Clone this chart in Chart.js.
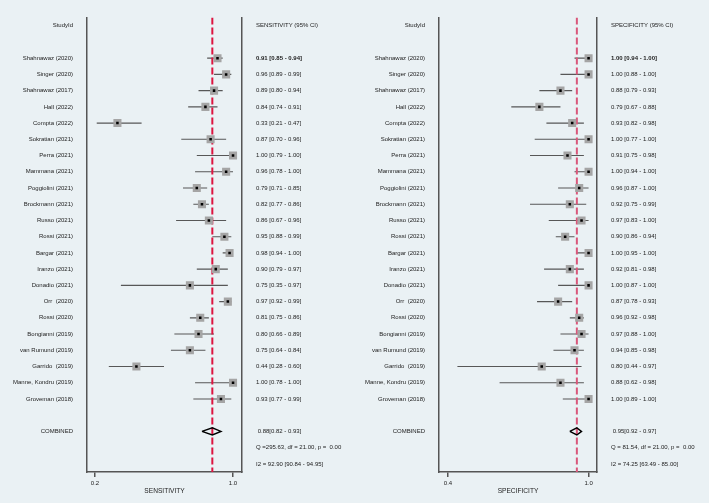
<!DOCTYPE html>
<html>
<head>
<meta charset="utf-8">
<script src="https://cdn.jsdelivr.net/npm/chart.js@4.4.0/dist/chart.umd.min.js"></script>
<style>
  html, body { margin: 0; padding: 0; background: #eaf1f4; }
  #wrap { position: relative; width: 709px; height: 503px; }
  canvas { position: absolute; top: 0; }
</style>
</head>
<body>
<div id="wrap">
  <canvas id="sens" width="354" height="503" style="left:0px"></canvas>
  <canvas id="spec" width="355" height="503" style="left:354px"></canvas>
</div>
<script>
const STUDIES = [
  "Shahnawaz (2020)", "Singer (2020)", "Shahnawaz (2017)", "Hall (2022)",
  "Compta (2022)", "Sokratian (2021)", "Perra (2021)", "Mammana (2021)",
  "Poggiolini (2021)", "Brockmann (2021)", "Russo (2021)", "Rossi (2021)",
  "Bargar (2021)", "Iranzo (2021)", "Donadio (2021)", "Orr  (2020)",
  "Rossi (2020)", "Bongianni (2019)", "van Rumund (2019)", "Garrido  (2019)",
  "Manne, Kondru (2019)", "Groveman (2018)",
];

const SENS_EST = [0.91, 0.96, 0.89, 0.84, 0.33, 0.87, 1.00, 0.96, 0.79, 0.82, 0.86,
  0.95, 0.98, 0.90, 0.75, 0.97, 0.81, 0.80, 0.75, 0.44, 1.00, 0.93];
const SENS_LO = [0.85, 0.89, 0.80, 0.74, 0.21, 0.70, 0.79, 0.78, 0.71, 0.77, 0.67,
  0.88, 0.94, 0.79, 0.35, 0.92, 0.75, 0.66, 0.64, 0.28, 0.78, 0.77];
const SENS_HI = [0.94, 0.99, 0.94, 0.91, 0.47, 0.96, 1.00, 1.00, 0.85, 0.86, 0.96,
  0.99, 1.00, 0.97, 0.97, 0.99, 0.86, 0.89, 0.84, 0.60, 1.00, 0.99];
const SENS_POOLED = [0.88, 0.82, 0.93];
const SENS_STATS = ["Q =295.63, df = 21.00, p =  0.00", "I2 = 92.90 [90.84 - 94.95]"];
const SENS_TICKS = [0.2, 1.0];

const SPEC_EST = [1.00, 1.00, 0.88, 0.79, 0.93, 1.00, 0.91, 1.00, 0.96, 0.92, 0.97,
  0.90, 1.00, 0.92, 1.00, 0.87, 0.96, 0.97, 0.94, 0.80, 0.88, 1.00];
const SPEC_LO = [0.94, 0.88, 0.79, 0.67, 0.82, 0.77, 0.75, 0.94, 0.87, 0.75, 0.83,
  0.86, 0.95, 0.81, 0.87, 0.78, 0.92, 0.88, 0.85, 0.44, 0.62, 0.89];
const SPEC_HI = [1.00, 1.00, 0.93, 0.88, 0.98, 1.00, 0.98, 1.00, 1.00, 0.99, 1.00,
  0.94, 1.00, 0.98, 1.00, 0.93, 0.98, 1.00, 0.98, 0.97, 0.98, 1.00];
const SPEC_POOLED = [0.95, 0.92, 0.97];
const SPEC_STATS = ["Q = 81.54, df = 21.00, p =  0.00", "I2 = 74.25 [63.49 - 85.00]"];
const SPEC_TICKS = [0.4, 1.0];

const FONT = "'Liberation Sans', Arial, Helvetica, sans-serif";

function ForestPlot(canvasId, cfg) {
  this.canvasId = canvasId;
  this.cfg = cfg;
  this.chart = null;
}

// rows: 0 header, 2..23 studies, 25 combined, 26-27 stats
ForestPlot.prototype.rowLabels = function () {
  const c = this.cfg;
  const fmt = (v) => v.toFixed(2);
  const left = {}, right = {};
  left[0] = "StudyId";
  right[0] = c.title + " (95% CI)";
  STUDIES.forEach((name, i) => {
    left[i + 2] = name;
    right[i + 2] = fmt(c.est[i]) + " [" + fmt(c.lo[i]) + " - " + fmt(c.hi[i]) + "]";
  });
  left[25] = "COMBINED";
  right[25] = " " + fmt(c.pooled[0]) + "[" + fmt(c.pooled[1]) + " - " + fmt(c.pooled[2]) + "]";
  right[26] = c.stats[0];
  right[27] = c.stats[1];
  return { left: left, right: right };
};

ForestPlot.prototype.render = function () {
  const c = this.cfg;
  const labels = this.rowLabels();
  const rows = [];
  for (let r = 0; r <= 27; r++) rows.push(r);

  const points = STUDIES.map((s, i) => ({ x: c.est[i], y: i + 2 }));
  const ciLines = [];
  STUDIES.forEach((s, i) => {
    ciLines.push({ x: c.lo[i], y: i + 2 }, { x: c.hi[i], y: i + 2 }, { x: c.hi[i], y: null });
  });
  const p = c.pooled;
  const diamond = [
    { x: p[1], y: 25 }, { x: p[0], y: 24.78 }, { x: p[2], y: 25 },
    { x: p[0], y: 25.22 }, { x: p[1], y: 25 },
  ];

  const yAxis = (pos, width, map, boldFirst) => ({
    type: "linear",
    position: pos,
    min: -0.5,
    max: 27.5,
    reverse: true,
    grid: { display: false, drawTicks: false, tickLength: 0 },
    border: { display: true, color: "#555", width: 1.5 },
    ticks: {
      autoSkip: false,
      padding: 14,
      color: "#222",
      font: (ctx) => ({
        size: 6, family: FONT,
        weight: boldFirst && ctx.tick && ctx.tick.value === 2 ? "bold" : "normal",
      }),
      callback: (v) => (map[v] !== undefined ? map[v] : ""),
    },
    afterBuildTicks: (scale) => { scale.ticks = rows.map((r) => ({ value: r })); },
    afterFit: (scale) => { scale.width = width; },
  });

  const ctx = document.getElementById(this.canvasId).getContext("2d");
  this.chart = new Chart(ctx, {
    type: "scatter",
    data: {
      datasets: [
        { data: points, pointStyle: "rect", pointRadius: 1.8, backgroundColor: "#000", borderWidth: 0 },
        { data: points, pointStyle: "rect", pointRadius: 5.7, backgroundColor: "#a5a5a5", borderWidth: 0 },
        { type: "line", data: diamond, borderColor: "#000", borderWidth: 1.4, pointRadius: 0, fill: false, tension: 0 },
        {
          type: "line", data: [{ x: p[0], y: -0.5 }, { x: p[0], y: 27.5 }],
          borderColor: c.refColor, borderWidth: 2, borderDash: [7, 3], pointRadius: 0, fill: false,
        },
        { type: "line", data: ciLines, borderColor: "#575757", borderWidth: 1.1, pointRadius: 0, fill: false, spanGaps: false },
      ],
    },
    options: {
      responsive: false,
      animation: false,
      events: [],
      layout: { padding: { top: 16, bottom: 0, left: 0, right: 0 } },
      plugins: { legend: { display: false }, tooltip: { enabled: false } },
      scales: {
        x: {
          type: "linear",
          min: c.xMin,
          max: c.xMax,
          grid: { display: true, drawOnChartArea: false, drawTicks: true, tickLength: 5, color: "#555", lineWidth: 1.5 },
          border: { display: true, color: "#555", width: 1.5 },
          ticks: { padding: 3, color: "#222", font: { size: 6, family: FONT }, callback: (v) => v.toFixed(1) },
          afterBuildTicks: (scale) => { scale.ticks = c.ticks.map((v) => ({ value: v })); },
          afterFit: (scale) => { scale.height = 31; },
          title: {
            display: true, text: c.title, color: "#222",
            font: { size: 6.6, family: FONT }, padding: { top: 0, bottom: 8 },
          },
        },
        y: yAxis("left", c.leftW, labels.left, false),
        y2: yAxis("right", c.rightW, labels.right, true),
      },
    },
  });
};

new ForestPlot("sens", {
  title: "SENSITIVITY", est: SENS_EST, lo: SENS_LO, hi: SENS_HI,
  pooled: SENS_POOLED, stats: SENS_STATS, ticks: SENS_TICKS,
  xMin: 0.1536, xMax: 1.052, leftW: 87, rightW: 112, refColor: "#dd1440",
}).render();

new ForestPlot("spec", {
  title: "SPECIFICITY", est: SPEC_EST, lo: SPEC_LO, hi: SPEC_HI,
  pooled: SPEC_POOLED, stats: SPEC_STATS, ticks: SPEC_TICKS,
  xMin: 0.3614, xMax: 1.036, leftW: 85, rightW: 112, refColor: "#d9577a",
}).render();
</script>
</body>
</html>
